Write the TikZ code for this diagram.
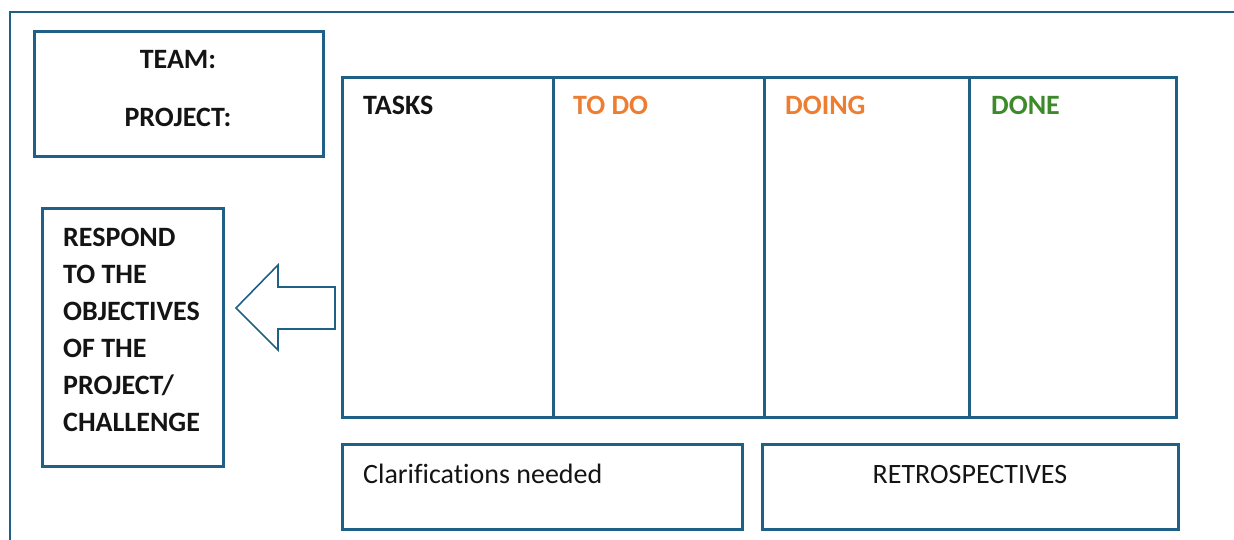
\documentclass[tikz,border=0pt]{standalone}
\usepackage{fontspec}
\setmainfont[Ligatures=NoCommon]{Carlito}
\definecolor{frame}{RGB}{31,96,134}
\definecolor{orng}{RGB}{237,125,49}
\definecolor{grn}{RGB}{61,138,43}
\definecolor{txt}{RGB}{20,20,20}
\begin{document}
\begin{tikzpicture}[x=1pt,y=-1pt,
  box/.style={draw=frame,line width=3pt,inner sep=0pt,anchor=north west},
  lbl/.style={inner sep=0pt,anchor=base west,font=\fontsize{28}{33}\selectfont\bfseries,text=txt},
  reg/.style={inner sep=0pt,anchor=base west,font=\fontsize{28}{33}\selectfont,text=txt}]
\useasboundingbox (0,0) rectangle (1234,540);
% outer frame
\draw[frame,line width=1.6pt] (10,540) -- (10,12) -- (1234,12);
% team box
\node[box,minimum width=289pt,minimum height=125pt] (team) at (33,30) {};
\node[lbl,anchor=base] (teamt) at (178,69) {TEAM:};
\node[lbl,anchor=base] (projt) at (178,127) {PROJECT:};
% kanban board
\node[box,minimum width=834pt,minimum height=340pt] (board) at (341,76) {};
\draw[frame,line width=3pt] (553,76) -- (553,416);
\draw[frame,line width=3pt] (764,76) -- (764,416);
\draw[frame,line width=3pt] (969,76) -- (969,416);
\node[lbl] (tasks) at (363,115) {TASKS};
\node[lbl,text=orng] (todo) at (573,115) {TO DO};
\node[lbl,text=orng] (doing) at (785,115) {DOING};
\node[lbl,text=grn] (done) at (991,115) {DONE};
% respond box
\node[box,minimum width=181pt,minimum height=258pt] (resp) at (41,207) {};
\node[lbl] (r1) at (63,246) {RESPOND};
\node[lbl] (r2) at (63,283) {TO THE};
\node[lbl] (r3) at (63,320) {OBJECTIVES};
\node[lbl] (r4) at (63,357) {OF THE};
\node[lbl] (r5) at (63,394) {PROJECT/};
\node[lbl] (r6) at (63,431) {CHALLENGE};
% arrow
\draw[frame,line width=1.6pt,line join=miter] (335,287) -- (278,287) -- (278,265) -- (236,308) -- (278,350) -- (278,329) -- (335,329) -- cycle;
% bottom boxes
\node[box,minimum width=400pt,minimum height=85pt] (clar) at (341,443) {};
\node[reg] (clart) at (363,483) {Clarifications needed};
\node[box,minimum width=416pt,minimum height=85pt] (retro) at (761,443) {};
\node[reg,anchor=base] (retrot) at (970,483) {RETROSPECTIVES};
\end{tikzpicture}
\end{document}
